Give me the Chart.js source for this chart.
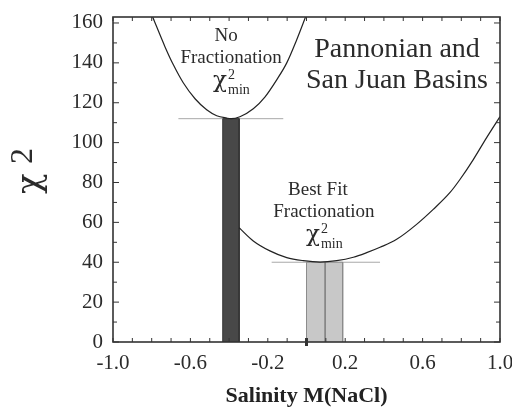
<!DOCTYPE html>
<html>
<head>
<meta charset="utf-8">
<script src="https://cdn.jsdelivr.net/npm/chart.js@4.4.0/dist/chart.umd.min.js"></script>
<style>
  html, body { margin: 0; padding: 0; background: #fff; }
  #wrap { width: 512px; height: 407px; }
</style>
</head>
<body>
<div id="wrap"><canvas id="chart" width="512" height="407"></canvas></div>
<script>
// ---- axis ticks ----
const xLabelTicks = [-1.0, -0.6, -0.2, 0.2, 0.6, 1.0];
const xMinorTicks = [-0.9, -0.8, -0.7, -0.5, -0.4, -0.3, -0.1, 0.0, 0.1, 0.3, 0.4, 0.5, 0.7, 0.8, 0.9];
const yLabelTicks = [0, 20, 40, 60, 80, 100, 120, 140, 160];
const yMinorTicks = [10, 30, 50, 70, 90, 110, 130, 150];
const yMax = 163;

// ---- chi-square curves ----
const noFracX = [-0.795, -0.731, -0.688, -0.637, -0.576, -0.516, -0.464, -0.412, -0.39, -0.344, -0.275, -0.214, -0.154, -0.102, -0.051, -0.005];
const noFracY = [163, 148, 139, 130, 122, 116.5, 113.5, 112.3, 112, 113, 117, 123, 131.5, 140, 151.5, 163];

const bestFitX = [-0.348, -0.275, -0.189, -0.102, -0.017, 0.07, 0.156, 0.242, 0.311, 0.38, 0.466, 0.569, 0.655, 0.742, 0.793, 0.862, 0.931, 1.0];
const bestFitY = [57.3, 50.7, 45.7, 42.3, 40.8, 40.1, 40.8, 42.5, 44.8, 47.5, 51.5, 59, 66.5, 75, 81.5, 91.5, 102.5, 113];

// ---- minimum bands and lines ----
const noFracBand = [-0.433, -0.348];
const noFracMin = 112;
const noFracLine = [-0.662, -0.12];

const bestFitBand = [0.0, 0.187];
const bestFitMin = 40;
const bestFitLine = [-0.18, 0.38];
const bestFitCenter = 0.096;

const zeroMark = 0.0;

const SERIF = '"Liberation Serif", "DejaVu Serif", serif';
const GREEK = '"DejaVu Serif", serif';
const INK = '#2b2b2b';

const toPts = (xs, ys) => xs.map((x, i) => ({ x: x, y: ys[i] }));
function rect(band, top) {
    return [{ x: band[0], y: 0 }, { x: band[0], y: top }, { x: band[1], y: top }, { x: band[1], y: 0 }];
}
function hline(range, v) {
    return [{ x: range[0], y: v }, { x: range[1], y: v }];
}

// frame, inward ticks and all annotation text
const decor = {
    id: 'decor',
    afterDatasetsDraw(chart) {
        const { ctx, chartArea: a, scales: { x, y } } = chart;
        ctx.save();
        ctx.strokeStyle = '#333';
        const seg = (x1, y1, x2, y2) => { ctx.beginPath(); ctx.moveTo(x1, y1); ctx.lineTo(x2, y2); ctx.stroke(); };

        ctx.lineWidth = 1;
        yLabelTicks.concat(yMinorTicks).forEach(v => {
            const len = yMinorTicks.includes(v) ? 4 : 6;
            const py = y.getPixelForValue(v);
            seg(a.left, py, a.left + len, py);
            seg(a.right, py, a.right - len, py);
        });
        xLabelTicks.concat(xMinorTicks).forEach(v => {
            const px = x.getPixelForValue(v);
            seg(px, a.bottom, px, a.bottom - 4);
            seg(px, a.top, px, a.top + 4);
        });

        ctx.lineWidth = 1.6;
        ctx.strokeRect(a.left, a.top, a.right - a.left, a.bottom - a.top);

        // thick marker at zero on the salinity axis
        ctx.lineWidth = 3;
        const zx = x.getPixelForValue(zeroMark);
        seg(zx, a.bottom - 4, zx, a.bottom + 4);
        ctx.restore();
    },
    afterDraw(chart) {
        const { ctx, scales: { x, y } } = chart;
        ctx.save();
        ctx.fillStyle = INK;
        ctx.textBaseline = 'alphabetic';

        // y axis title: chi 2, rotated
        ctx.save();
        ctx.translate(40, 194);
        ctx.rotate(-Math.PI / 2);
        ctx.textAlign = 'left';
        ctx.font = '34px ' + GREEK;
        ctx.fillText('χ', 0, 0);
        ctx.font = '32px ' + SERIF;
        ctx.fillText('2', 30, -8);
        ctx.restore();

        // chi^2 min label
        function chiMin(cx, base) {
            ctx.textAlign = 'left';
            ctx.font = '23px ' + GREEK;
            ctx.fillText('χ', cx - 18, base + 24);
            ctx.font = '14px ' + SERIF;
            ctx.fillText('2', cx - 3, base + 16);
            ctx.fillText('min', cx - 3, base + 31);
        }

        // No Fractionation
        const p1x = x.getPixelForValue(-0.39);
        const p1y = y.getPixelForValue(140);
        ctx.textAlign = 'center';
        ctx.font = '19px ' + SERIF;
        ctx.fillText('No', p1x - 5, p1y - 22);
        ctx.fillText('Fractionation', p1x, p1y);
        chiMin(p1x, p1y);

        // Best Fit Fractionation
        const p2x = x.getPixelForValue(0.09);
        const p2y = y.getPixelForValue(62.7);
        ctx.textAlign = 'center';
        ctx.font = '19px ' + SERIF;
        ctx.fillText('Best Fit', p2x - 6, p2y - 22);
        ctx.fillText('Fractionation', p2x, p2y);
        chiMin(p2x, p2y);

        // basin label
        ctx.textAlign = 'center';
        ctx.font = '28px ' + SERIF;
        ctx.fillText('Pannonian and', 397, 57);
        ctx.fillText('San Juan Basins', 397, 88);
        ctx.restore();
    }
};

const ctx = document.getElementById('chart').getContext('2d');
new Chart(ctx, {
    type: 'scatter',
    data: {
        datasets: [
            {   // no fractionation curve
                data: toPts(noFracX, noFracY), showLine: true, borderColor: '#222', borderWidth: 1.2,
                pointRadius: 0, cubicInterpolationMode: 'monotone', order: 1
            },
            {   // best fit fractionation curve
                data: toPts(bestFitX, bestFitY), showLine: true, borderColor: '#222', borderWidth: 1.2,
                pointRadius: 0, cubicInterpolationMode: 'monotone', order: 1
            },
            {
                data: [{ x: bestFitCenter, y: 0 }, { x: bestFitCenter, y: bestFitMin }], showLine: true,
                borderColor: '#555', borderWidth: 1, pointRadius: 0, order: 2
            },
            {
                data: rect(bestFitBand, bestFitMin), showLine: true, fill: 'origin',
                backgroundColor: '#c8c8c8', borderColor: '#8c8c8c', borderWidth: 1, pointRadius: 0, order: 3
            },
            {
                data: rect(noFracBand, noFracMin), showLine: true, fill: 'origin',
                backgroundColor: '#484848', borderColor: '#333', borderWidth: 1, pointRadius: 0, order: 3
            },
            {
                data: hline(noFracLine, noFracMin), showLine: true, borderColor: '#a8a8a8', borderWidth: 1,
                pointRadius: 0, order: 4
            },
            {
                data: hline(bestFitLine, bestFitMin), showLine: true, borderColor: '#a8a8a8', borderWidth: 1,
                pointRadius: 0, order: 4
            }
        ]
    },
    options: {
        responsive: false,
        animation: false,
        layout: { padding: { top: 17, right: 12, left: 0, bottom: 0 } },
        plugins: { legend: { display: false }, tooltip: { enabled: false } },
        scales: {
            x: {
                type: 'linear', min: -1, max: 1,
                grid: { display: false, drawTicks: false },
                border: { display: false },
                afterBuildTicks: s => { s.ticks = xLabelTicks.map(v => ({ value: v })); },
                afterFit: s => { s.height = 65; s.paddingLeft = 0; s.paddingRight = 0; },
                ticks: {
                    padding: 9, color: INK, font: { family: SERIF, size: 21 },
                    callback: v => v.toFixed(1)
                },
                title: {
                    display: true, text: 'Salinity M(NaCl)', color: '#222',
                    font: { family: SERIF, size: 22, weight: 'bold', lineHeight: 1 },
                    padding: { top: 0, bottom: 0 }
                }
            },
            y: {
                type: 'linear', min: 0, max: yMax,
                grid: { display: false, drawTicks: false },
                border: { display: false },
                afterBuildTicks: s => { s.ticks = yLabelTicks.map(v => ({ value: v })); },
                afterFit: s => { s.width = 113; s.paddingTop = 0; s.paddingBottom = 0; },
                ticks: { padding: 10, color: INK, font: { family: SERIF, size: 21 } }
            }
        }
    },
    plugins: [decor]
});
</script>
</body>
</html>
